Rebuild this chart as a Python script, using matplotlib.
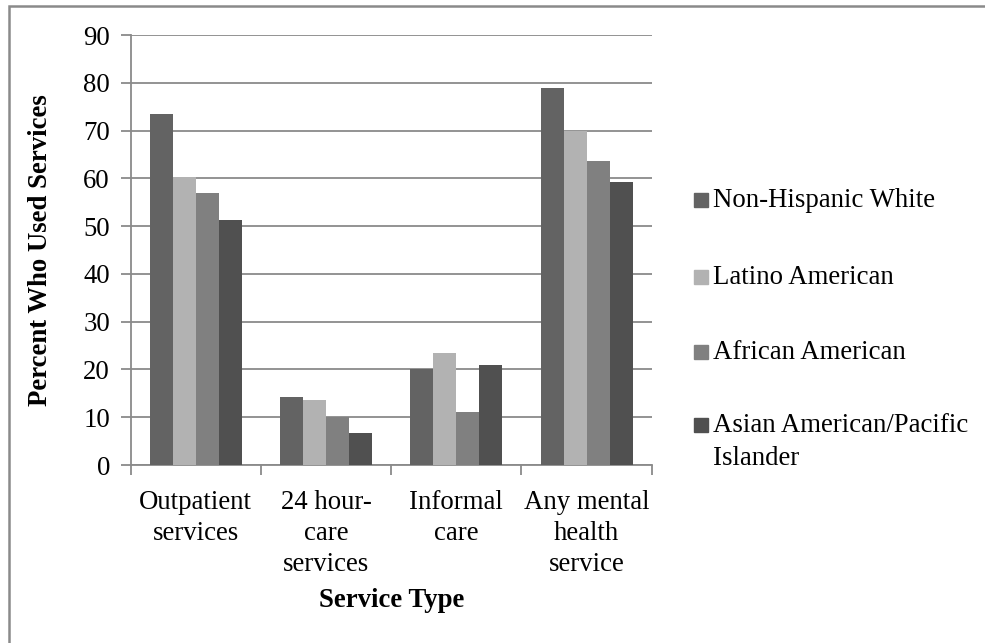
import matplotlib
matplotlib.use('Agg')
import matplotlib.pyplot as plt
import numpy as np
from matplotlib.patches import Rectangle

plt.rcParams['font.family'] = ['Liberation Serif', 'DejaVu Serif']

categories = ['Outpatient\nservices', '24 hour-\ncare\nservices', 'Informal\ncare', 'Any mental\nhealth\nservice']
groups = ['Non-Hispanic White', 'Latino American', 'African American', 'Asian American/Pacific\nIslander']
non_hispanic_white = [73.4, 14.2, 20.1, 78.9]
latino_american = [60.2, 13.7, 23.4, 70.0]
african_american = [56.9, 10.0, 11.2, 63.6]
asian_american = [51.3, 6.6, 20.9, 59.2]
series = [non_hispanic_white, latino_american, african_american, asian_american]
colors = ['#636363', '#b2b2b2', '#808080', '#505050']

fs = 19.3
grid_col = '#8a8a8a'

fig = plt.figure(figsize=(9.85, 6.43), dpi=100)
ax = fig.add_axes([0.1327, 0.2768, 0.5289, 0.6687])

x = np.arange(len(categories))
w = 0.1765
for i, vals in enumerate(series):
    ax.bar(x + (i - 1.5) * w, vals, w, color=colors[i], linewidth=0, zorder=3)

ax.set_xlim(-0.5, 3.5)
ax.set_ylim(0, 90)
ax.set_yticks(range(0, 91, 10))
ax.yaxis.grid(True, color=grid_col, linewidth=1.3, zorder=0)
ax.set_axisbelow(True)

for s in ['top', 'right']:
    ax.spines[s].set_visible(False)
for s in ['left', 'bottom']:
    ax.spines[s].set_color(grid_col)
    ax.spines[s].set_linewidth(1.3)

ax.set_xticks(x)
ax.set_xticklabels(categories, fontsize=fs, linespacing=1.32)
ax.set_xticks(np.arange(-0.5, 4, 1), minor=True)
ax.tick_params(axis='x', which='major', length=0, pad=18)
ax.tick_params(axis='x', which='minor', length=7, width=1.3, color=grid_col)
ax.tick_params(axis='y', length=7, width=1.3, color=grid_col, labelsize=fs, pad=8)

ax.set_xlabel('Service Type', fontsize=fs, fontweight='bold', labelpad=8)
ax.set_ylabel('Percent Who Used Services', fontsize=fs, fontweight='bold', labelpad=22)

# legend drawn by hand so the two-line entry keeps its marker on the first line
W, H = 985, 643
leg_y = [200, 277, 352, 425]
for i, name in enumerate(groups):
    yc = leg_y[i]
    fig.patches.append(Rectangle((694 / W, 1 - (yc + 7) / H), 14 / W, 14 / H,
                                 transform=fig.transFigure, color=colors[i]))
    fig.text(713 / W, 1 - (yc - 12) / H, name, fontsize=fs, va='top', ha='left',
             linespacing=1.4)

# chart frame
fig.patches.append(Rectangle((8.5 / W, -0.1), 1.2, 1 - 6 / H + 0.1, transform=fig.transFigure,
                             fill=False, edgecolor='#8a8a8a', linewidth=1.8))

fig.savefig('out.png', dpi=100)
